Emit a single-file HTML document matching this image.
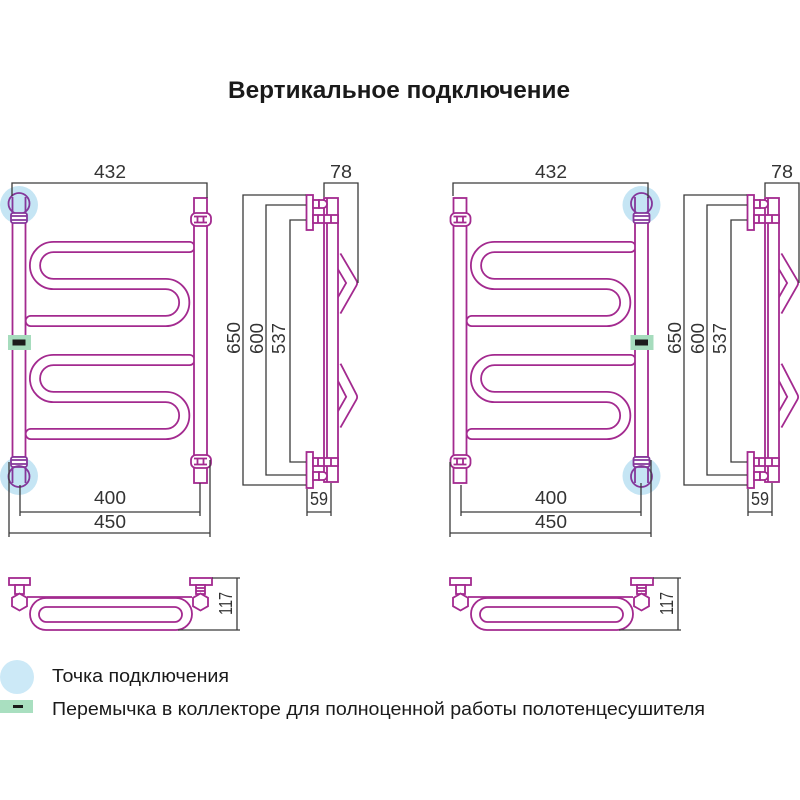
<!DOCTYPE html>
<html><head><meta charset="utf-8"><style>
html,body{margin:0;padding:0;background:#fff;width:800px;height:800px;overflow:hidden}
svg{display:block}
.m{fill:none;stroke:#a32a8f;stroke-width:1.8}
.mw{fill:#fff;stroke:#a32a8f;stroke-width:1.8}
.c{fill:none;stroke:#84379b;stroke-width:1.8}
.cw{fill:#fff;stroke:#84379b;stroke-width:1.8}
.g{fill:none;stroke:#3a3a3a;stroke-width:1.3}
.n{font-family:"Liberation Sans",sans-serif;font-size:18px;fill:#333}
.t{font-family:"Liberation Sans","Noto Sans CJK SC",sans-serif;fill:#1a1a1a}
</style></head><body>
<svg width="800" height="800" viewBox="0 0 800 800" xmlns="http://www.w3.org/2000/svg">
<defs>
  <g id="serp">
    <path d="M189.5,247 H53.5 A18.5,18.5 0 0 0 53.5,284 H165.75 A18.5,18.5 0 0 1 165.75,321 H30.75" fill="none" stroke="#a32a8f" stroke-width="12" stroke-linecap="round"/>
    <path d="M189.5,247 H53.5 A18.5,18.5 0 0 0 53.5,284 H165.75 A18.5,18.5 0 0 1 165.75,321 H30.75" fill="none" stroke="#fff" stroke-width="8.4" stroke-linecap="round"/>
    <path d="M189.5,360 H53.5 A18.5,18.5 0 0 0 53.5,397 H165.75 A18.5,18.5 0 0 1 165.75,434 H30.75" fill="none" stroke="#a32a8f" stroke-width="12" stroke-linecap="round"/>
    <path d="M189.5,360 H53.5 A18.5,18.5 0 0 0 53.5,397 H165.75 A18.5,18.5 0 0 1 165.75,434 H30.75" fill="none" stroke="#fff" stroke-width="8.4" stroke-linecap="round"/>
  </g>
  <g id="plain">
    <rect class="mw" x="194" y="198" width="13" height="285"/>
    <rect class="mw" x="191" y="213" width="20" height="13" rx="5"/>
    <path class="m" d="M194,216.5 H207 M194,222.5 H207 M197.5,216.5 V222.5 M203.5,216.5 V222.5"/>
    <rect class="mw" x="191" y="455" width="20" height="13" rx="5"/>
    <path class="m" d="M194,458.5 H207 M194,464.5 H207 M197.5,458.5 V464.5 M203.5,458.5 V464.5"/>
  </g>
  <g id="conn">
    <circle cx="19" cy="205" r="19" fill="#c5e5f4"/>
    <circle cx="19" cy="476" r="19" fill="#c5e5f4"/>
    <rect class="mw" x="12.5" y="222" width="13" height="235"/>
    <circle class="c" cx="19" cy="203.5" r="10.5"/>
    <path class="c" d="M12.5,197 V213 M25.5,197 V213"/>
    <rect class="cw" x="11" y="213" width="16" height="10" rx="2"/>
    <path class="c" d="M11,216 H27 M11,220 H27"/>
    <rect class="cw" x="11" y="457" width="16" height="10" rx="2"/>
    <path class="c" d="M11,460 H27 M11,464 H27"/>
    <circle class="c" cx="19" cy="476.5" r="10.5"/>
    <path class="c" d="M12.5,467 V483 M25.5,467 V483"/>
    <rect x="8" y="335" width="23" height="15" fill="#a6dcbd"/>
    <rect x="12.5" y="339.5" width="13" height="6" fill="#1c1c1c"/>
  </g>
  <g id="frontdim">
    <path class="g" d="M12,196 V183 H207 V198"/>
    <path class="g" d="M20,485 V516 M200,483 V516 M20,512 H200"/>
    <path class="g" d="M9,462 V537 M210,460 V537 M9,533 H210"/>
  </g>
  <g id="side">
    <path d="M336,256 L352,283 L336,311" fill="none" stroke="#a32a8f" stroke-width="12" stroke-linejoin="round"/>
    <path d="M336,256 L352,283 L336,311" fill="none" stroke="#fff" stroke-width="8.4" stroke-linejoin="round"/>
    <path d="M336,366 L352,397 L336,425" fill="none" stroke="#a32a8f" stroke-width="12" stroke-linejoin="round"/>
    <path d="M336,366 L352,397 L336,425" fill="none" stroke="#fff" stroke-width="8.4" stroke-linejoin="round"/>
    <rect class="mw" x="324" y="198" width="14" height="284"/>
    <path class="m" d="M327,198 V482"/>
    <rect class="mw" x="306.5" y="195" width="6.5" height="35"/>
    <rect class="mw" x="306.5" y="452" width="6.5" height="36"/>
    <rect class="mw" x="313" y="200" width="6" height="8"/>
    <path class="mw" d="M319,200 H323 A4,4 0 0 1 323,208 H319 Z"/>
    <rect class="mw" x="313" y="215" width="25" height="8"/>
    <path class="m" d="M318,215 V223 M324,215 V223 M331,215 V223"/>
    <rect class="mw" x="313" y="458" width="25" height="8"/>
    <path class="m" d="M318,458 V466 M324,458 V466 M331,458 V466"/>
    <rect class="mw" x="313" y="472" width="6" height="8"/>
    <path class="mw" d="M319,472 H323 A4,4 0 0 1 323,480 H319 Z"/>
    <path class="g" d="M306,195 H243 V485 H306"/>
    <path class="g" d="M306,205 H266 V475 H306"/>
    <path class="g" d="M306,220 H290 V462 H306"/>
    <path class="g" d="M324,197 V183 H358 V283"/>
    <path class="g" d="M307,489 V516 M331,483 V516 M307,512 H331"/>
  </g>
  <g id="top">
    <path class="m" d="M27,597 H192"/>
    <rect class="m" x="30" y="598" width="162" height="32" rx="16"/>
    <rect class="m" x="39" y="607" width="143" height="15" rx="7.5"/>
    <rect class="mw" x="9" y="578" width="21" height="7"/>
    <rect class="mw" x="190" y="578" width="22" height="7"/>
    <rect class="mw" x="15" y="585" width="9" height="9"/>
    <rect class="mw" x="196" y="585" width="9" height="9"/>
    <path class="m" d="M196,588 H205 M196,591 H205"/>
    <polygon class="mw" points="19.5,593.5 27,597.8 27,606.2 19.5,610.5 12,606.2 12,597.8"/>
    <polygon class="mw" points="200.5,593.5 208,597.8 208,606.2 200.5,610.5 193,606.2 193,597.8"/>
    <path class="g" d="M212,578 H240 M237,578 V630 M178,630 H240"/>
  </g>
</defs>

<text class="t" x="228" y="98" font-size="24" font-weight="bold" textLength="342" lengthAdjust="spacingAndGlyphs">Вертикальное подключение</text>

<!-- Left set -->
<use href="#serp"/>
<use href="#plain"/>
<use href="#conn"/>
<use href="#frontdim"/>
<use href="#side"/>
<use href="#top"/>

<!-- Right set -->
<use href="#serp" transform="translate(441,0)"/>
<use href="#plain" transform="translate(259.5,0)"/>
<use href="#conn" transform="translate(622.5,0)"/>
<use href="#frontdim" transform="translate(441,0)"/>
<use href="#side" transform="translate(441,0)"/>
<use href="#top" transform="translate(441,0)"/>

<!-- numbers left -->
<text class="n" x="94" y="178" textLength="32" lengthAdjust="spacingAndGlyphs">432</text>
<text class="n" x="94" y="504" textLength="32" lengthAdjust="spacingAndGlyphs">400</text>
<text class="n" x="94" y="528" textLength="32" lengthAdjust="spacingAndGlyphs">450</text>
<text class="n" x="330" y="178" textLength="22" lengthAdjust="spacingAndGlyphs">78</text>
<text class="n" x="310" y="505" textLength="18" lengthAdjust="spacingAndGlyphs">59</text>
<text class="n" transform="translate(240,354) rotate(-90)" textLength="32" lengthAdjust="spacingAndGlyphs">650</text>
<text class="n" transform="translate(263,354) rotate(-90)" textLength="31" lengthAdjust="spacingAndGlyphs">600</text>
<text class="n" transform="translate(285,354) rotate(-90)" textLength="31" lengthAdjust="spacingAndGlyphs">537</text>
<text class="n" transform="translate(232,615) rotate(-90)" textLength="23" lengthAdjust="spacingAndGlyphs">117</text>

<!-- numbers right -->
<text class="n" x="535" y="178" textLength="32" lengthAdjust="spacingAndGlyphs">432</text>
<text class="n" x="535" y="504" textLength="32" lengthAdjust="spacingAndGlyphs">400</text>
<text class="n" x="535" y="528" textLength="32" lengthAdjust="spacingAndGlyphs">450</text>
<text class="n" x="771" y="178" textLength="22" lengthAdjust="spacingAndGlyphs">78</text>
<text class="n" x="751" y="505" textLength="18" lengthAdjust="spacingAndGlyphs">59</text>
<text class="n" transform="translate(681,354) rotate(-90)" textLength="32" lengthAdjust="spacingAndGlyphs">650</text>
<text class="n" transform="translate(704,354) rotate(-90)" textLength="31" lengthAdjust="spacingAndGlyphs">600</text>
<text class="n" transform="translate(726,354) rotate(-90)" textLength="31" lengthAdjust="spacingAndGlyphs">537</text>
<text class="n" transform="translate(673,615) rotate(-90)" textLength="23" lengthAdjust="spacingAndGlyphs">117</text>

<!-- legend -->
<circle cx="17" cy="677" r="17" fill="#cce9f7"/>
<text class="t" x="52" y="682" font-size="18.5" textLength="177" lengthAdjust="spacingAndGlyphs">Точка подключения</text>
<rect x="0" y="700" width="33" height="13" fill="#a9dfc0"/>
<rect x="13" y="705" width="10" height="3" fill="#1a1a1a"/>
<text class="t" x="52" y="715" font-size="18.5" textLength="653" lengthAdjust="spacingAndGlyphs">Перемычка в коллекторе для полноценной работы полотенцесушителя</text>
</svg>
</body></html>
